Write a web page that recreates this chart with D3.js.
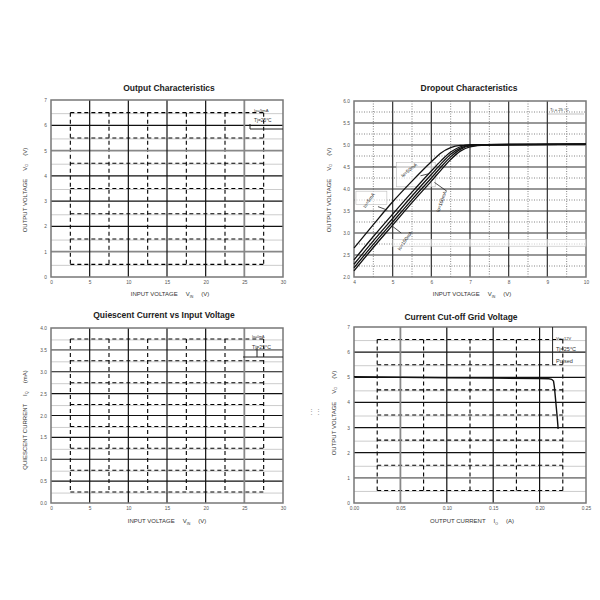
<!DOCTYPE html>
<html>
<head>
<meta charset="utf-8">
<script src="https://cdn.jsdelivr.net/npm/d3@7"></script>
<style>
  body { margin: 0; background: #fff; }
  text { font-family: "Liberation Sans", Arial, sans-serif; }
</style>
</head>
<body>
<svg id="chart" width="600" height="600"></svg>
<script>
// tick values for each panel
var outX = [0, 5, 10, 15, 20, 25, 30];
var outY = [0, 1, 2, 3, 4, 5, 6, 7];
var dropX = [4, 5, 6, 7, 8, 9, 10];
var dropY = [2.0, 2.5, 3.0, 3.5, 4.0, 4.5, 5.0, 5.5, 6.0];
var quiX = [0, 5, 10, 15, 20, 25, 30];
var quiY = [0.0, 0.5, 1.0, 1.5, 2.0, 2.5, 3.0, 3.5, 4.0];
var cutX = [0.00, 0.05, 0.10, 0.15, 0.20, 0.25];
var cutY = [0, 1, 2, 3, 4, 5, 6, 7];

// dropout curves, input voltage vs output voltage
var dropVin = [4, 4.5, 5, 5.5, 6, 6.25, 6.5, 6.75, 7, 7.4, 10];
var drop5mA   = [2.66, 3.19, 3.71, 4.18, 4.62, 4.82, 4.94, 4.99, 5.00, 5.01, 5.02];
var drop50mA  = [2.39, 2.92, 3.43, 3.93, 4.41, 4.64, 4.84, 4.96, 5.00, 5.01, 5.02];
var drop100mA = [2.29, 2.82, 3.33, 3.84, 4.33, 4.57, 4.79, 4.93, 4.99, 5.01, 5.02];
var drop150mA = [2.21, 2.74, 3.25, 3.76, 4.25, 4.50, 4.73, 4.90, 4.98, 5.00, 5.02];
var drop200mA = [2.14, 2.67, 3.18, 3.69, 4.18, 4.43, 4.67, 4.86, 4.96, 5.00, 5.02];
var dropLabels = ["Io=5mA", "Io=50mA", "Io=100mA", "Io=150mA"];

// current cut-off curve
var cutIo = [0, 0.05, 0.10, 0.15, 0.20, 0.210, 0.213, 0.215, 0.216, 0.217, 0.218, 0.219, 0.220];
var cutVo = [5.02, 5.00, 4.98, 4.97, 4.95, 4.94, 4.92, 4.85, 4.60, 4.20, 3.80, 3.40, 2.95];

var svg = d3.select("#chart");

function drawPanel(p) {
    var g = svg.append("g");
    var x = d3.scaleLinear().domain([p.xTicks[0], p.xTicks[p.xTicks.length - 1]]).range([p.left, p.right]);
    var y = d3.scaleLinear().domain([p.yTicks[0], p.yTicks[p.yTicks.length - 1]]).range([p.bottom, p.top]);
    var xMinor = d3.pairs(p.xTicks, function (a, b) { return (a + b) / 2; });
    var yMinor = d3.pairs(p.yTicks, function (a, b) { return (a + b) / 2; });
    var xIn = p.xTicks.slice(1, -1);
    var yIn = p.yTicks.slice(1, -1);

    if (p.dotted) {
        // fine dotted minor grid
        g.selectAll(".mh").data(yMinor).enter().append("line")
            .attr("x1", p.left).attr("x2", p.right)
            .attr("y1", function (d) { return y(d); }).attr("y2", function (d) { return y(d); })
            .attr("stroke", "#666").attr("stroke-width", 0.8).attr("stroke-dasharray", "1,1.5");
        g.selectAll(".mv").data(xMinor).enter().append("line")
            .attr("y1", p.top).attr("y2", p.bottom)
            .attr("x1", function (d) { return x(d); }).attr("x2", function (d) { return x(d); })
            .attr("stroke", "#666").attr("stroke-width", 0.8).attr("stroke-dasharray", "1,1.5");
    } else {
        // light gray under-lines
        g.selectAll(".gh").data(yMinor).enter().append("line")
            .attr("x1", p.left).attr("x2", p.right)
            .attr("y1", function (d) { return y(d) + 1; }).attr("y2", function (d) { return y(d) + 1; })
            .attr("stroke", "#ccc").attr("stroke-width", 1);
        // dashed lattice
        var x0 = x(xMinor[0]), x1 = x(xMinor[xMinor.length - 1]);
        var y0 = y(yMinor[0]), y1 = y(yMinor[yMinor.length - 1]);
        g.selectAll(".dh").data(yMinor).enter().append("line")
            .attr("x1", x0).attr("x2", x1)
            .attr("y1", function (d) { return y(d); }).attr("y2", function (d) { return y(d); })
            .attr("stroke", "#000").attr("stroke-width", 1.1).attr("stroke-dasharray", "4,3");
        g.selectAll(".dv").data(xMinor).enter().append("line")
            .attr("y1", y1).attr("y2", y0)
            .attr("x1", function (d) { return x(d); }).attr("x2", function (d) { return x(d); })
            .attr("stroke", "#000").attr("stroke-width", 1.1).attr("stroke-dasharray", "4,3");
    }

    // major grid
    function majColor(list, d) { return list.indexOf(d) >= 0 ? "#888" : p.majorColor; }
    g.selectAll(".jh").data(yIn).enter().append("line")
        .attr("x1", p.left).attr("x2", p.right)
        .attr("y1", function (d) { return y(d); }).attr("y2", function (d) { return y(d); })
        .attr("stroke", function (d) { return majColor(p.grayY, d); })
        .attr("stroke-width", function (d) { return p.grayY.indexOf(d) >= 0 ? 1.8 : 1.2; });
    g.selectAll(".jv").data(xIn).enter().append("line")
        .attr("y1", p.top).attr("y2", p.bottom)
        .attr("x1", function (d) { return x(d); }).attr("x2", function (d) { return x(d); })
        .attr("stroke", function (d) { return majColor(p.grayX, d); })
        .attr("stroke-width", function (d) { return p.grayX.indexOf(d) >= 0 ? 1.8 : 1.2; });

    // frame
    g.append("rect")
        .attr("x", p.left).attr("y", p.top)
        .attr("width", p.right - p.left).attr("height", p.bottom - p.top)
        .attr("fill", "none").attr("stroke", "#777").attr("stroke-width", 1.5);

    // axes
    var xAxis = d3.axisBottom(x).tickValues(p.xTicks).tickSize(0).tickPadding(4).tickFormat(p.xFmt);
    var yAxis = d3.axisLeft(y).tickValues(p.yTicks).tickSize(0).tickPadding(4).tickFormat(p.yFmt);
    var ax = g.append("g").attr("transform", "translate(0," + p.bottom + ")").call(xAxis);
    var ay = g.append("g").attr("transform", "translate(" + p.left + ",0)").call(yAxis);
    [ax, ay].forEach(function (a) {
        a.select(".domain").remove();
        a.selectAll("text").attr("font-size", 4.8).attr("fill", "#555").attr("font-family", "Liberation Sans, Arial");
    });

    // title
    g.append("text")
        .attr("x", p.titleX).attr("y", p.titleY)
        .attr("text-anchor", "middle").attr("font-size", 8.5).attr("font-weight", "bold").attr("fill", "#222")
        .text(p.title);

    // x label
    var xl = g.append("text")
        .attr("x", p.xLabelX).attr("y", p.xLabelY)
        .attr("text-anchor", "middle").attr("font-size", 6).attr("fill", "#333");
    xl.append("tspan").text(p.xLabel[0]);
    xl.append("tspan").attr("dx", 8).text(p.xLabel[1]);
    xl.append("tspan").attr("font-size", 3.5).attr("dy", 1.5).text(p.xLabel[2]);
    xl.append("tspan").attr("dx", 8).attr("dy", -1.5).text(p.xLabel[3]);

    // y label
    var yl = g.append("text")
        .attr("transform", "translate(" + p.yLabelX + "," + p.yLabelY + ") rotate(-90)")
        .attr("text-anchor", "middle").attr("font-size", 6).attr("fill", "#333");
    yl.append("tspan").text(p.yLabel[0]);
    yl.append("tspan").attr("dx", 8).text(p.yLabel[1]);
    yl.append("tspan").attr("font-size", 3.8).attr("dy", 1.2).text(p.yLabel[2]);
    yl.append("tspan").attr("dx", 8).attr("dy", -1.2).text(p.yLabel[3]);

    return {g: g, x: x, y: y};
}

function smallText(g, tx, ty, s, size) {
    g.append("text").attr("x", tx).attr("y", ty)
        .attr("font-size", size || 4.5).attr("fill", "#333").text(s);
}

// ---- Output Characteristics ----
var p1 = drawPanel({
    left: 51, right: 283, top: 100, bottom: 277,
    xTicks: outX, yTicks: outY, xFmt: d3.format("d"), yFmt: d3.format("d"),
    grayX: [25], grayY: [1, 5], majorColor: "#111",
    title: "Output  Characteristics", titleX: 169, titleY: 91,
    xLabel: ["INPUT VOLTAGE", "V", "IN", "(V)"], xLabelX: 170, xLabelY: 296,
    yLabel: ["OUTPUT VOLTAGE", "V", "O", "(V)"], yLabelX: 27, yLabelY: 190
});
p1.g.append("path").attr("d", "M250,124V129H283").attr("fill", "none").attr("stroke", "#222").attr("stroke-width", 1);
smallText(p1.g, 254, 112, "Io=5mA", 4.2);
smallText(p1.g, 254, 122, "Tj=25°C", 4.8);

// ---- Dropout Characteristics ----
var p2 = drawPanel({
    left: 354, right: 586, top: 101, bottom: 277, dotted: true,
    xTicks: dropX, yTicks: dropY, xFmt: d3.format("d"), yFmt: d3.format(".1f"),
    grayX: [], grayY: [], majorColor: "#333",
    title: "Dropout Characteristics", titleX: 469, titleY: 91,
    xLabel: ["INPUT VOLTAGE", "V", "IN", "(V)"], xLabelX: 472, xLabelY: 296,
    yLabel: ["OUTPUT VOLTAGE", "V", "O", "(V)"], yLabelX: 331, yLabelY: 190
});
// faint label boxes
[[4.05, 3.95, 0.8, 0.3], [5.1, 4.6, 1.0, 0.55], [5.0, 2.85, 5.0, 0.15]].forEach(function (b) {
    p2.g.append("rect")
        .attr("x", p2.x(b[0])).attr("y", p2.y(b[1]))
        .attr("width", p2.x(b[0] + b[2]) - p2.x(b[0])).attr("height", p2.y(b[1] - b[3]) - p2.y(b[1]))
        .attr("fill", "#fff").attr("fill-opacity", 0.6).attr("stroke", "#bbb").attr("stroke-width", 0.6);
});
var dropLine = d3.line()
    .x(function (d, i) { return p2.x(dropVin[i]); })
    .y(function (d) { return p2.y(d); })
    .curve(d3.curveMonotoneX);
[drop5mA, drop50mA, drop100mA, drop150mA, drop200mA].forEach(function (s) {
    p2.g.append("path").attr("d", dropLine(s))
        .attr("fill", "none").attr("stroke", "#111").attr("stroke-width", 1.3);
});
var labelPos = [[4.42, 3.72, -55], [5.45, 4.4, -40], [6.3, 3.7, -70], [5.35, 2.8, -55]];
var arrows = [[4.62, 3.6, 4.86, 3.52], [5.95, 4.35, 5.72, 4.3], [6.4, 3.95, 6.08, 4.15], [5.22, 3.0, 5.0, 3.15]];
dropLabels.forEach(function (s, i) {
    var lp = labelPos[i];
    p2.g.append("text")
        .attr("transform", "translate(" + p2.x(lp[0]) + "," + p2.y(lp[1]) + ") rotate(" + lp[2] + ")")
        .attr("text-anchor", "middle").attr("font-size", 4.8).attr("fill", "#222").text(s);
    var a = arrows[i];
    p2.g.append("line")
        .attr("x1", p2.x(a[0])).attr("y1", p2.y(a[1])).attr("x2", p2.x(a[2])).attr("y2", p2.y(a[3]))
        .attr("stroke", "#222").attr("stroke-width", 0.8);
});
smallText(p2.g, 550, 111, "Tj = 25 °C", 4.2);
p2.g.append("line").attr("x1", 548).attr("x2", 584).attr("y1", 114).attr("y2", 114)
    .attr("stroke", "#999").attr("stroke-width", 0.6);

// ---- Quiescent Current vs Input Voltage ----
var p3 = drawPanel({
    left: 51, right: 283, top: 328, bottom: 503,
    xTicks: quiX, yTicks: quiY, xFmt: d3.format("d"), yFmt: d3.format(".1f"),
    grayX: [25], grayY: [3.5], majorColor: "#111",
    title: "Quiescent Current vs Input Voltage", titleX: 164, titleY: 318,
    xLabel: ["INPUT VOLTAGE", "V", "IN", "(V)"], xLabelX: 167, xLabelY: 523,
    yLabel: ["QUIESCENT CURRENT", "I", "Q", "(mA)"], yLabelX: 27, yLabelY: 420
});
p3.g.append("path").attr("d", "M257,348V357M243,357H283").attr("fill", "none").attr("stroke", "#222").attr("stroke-width", 1);
smallText(p3.g, 252, 338, "Io=0mA", 3.6);
smallText(p3.g, 252, 349, "Tj=25°C", 5.2);

// ---- Current Cut-off Grid Voltage ----
var p4 = drawPanel({
    left: 354, right: 586, top: 327, bottom: 503,
    xTicks: cutX, yTicks: cutY, xFmt: d3.format(".2f"), yFmt: d3.format("d"),
    grayX: [0.05], grayY: [1], majorColor: "#111",
    title: "Current  Cut-off Grid Voltage", titleX: 461, titleY: 320,
    xLabel: ["OUTPUT CURRENT", "I", "O", "(A)"], xLabelX: 472, xLabelY: 523,
    yLabel: ["OUTPUT VOLTAGE", "V", "O", "(V)"], yLabelX: 336, yLabelY: 413
});
var cutLine = d3.line()
    .x(function (d, i) { return p4.x(cutIo[i]); })
    .y(function (d) { return p4.y(d); });
p4.g.append("path").attr("d", cutLine(cutVo))
    .attr("fill", "none").attr("stroke", "#111").attr("stroke-width", 1.4);
p4.g.append("line").attr("x1", p4.x(0.214)).attr("x2", p4.x(0.214))
    .attr("y1", p4.y(7)).attr("y2", p4.y(5.5)).attr("stroke", "#222").attr("stroke-width", 1);
smallText(p4.g, 556, 340, "Vin=12V", 4);
smallText(p4.g, 556, 351, "Tj=25°C", 5.5);
smallText(p4.g, 556, 363, "Pulsed", 5.5);

// scan artifact
svg.append("text").attr("x", 308).attr("y", 414).attr("font-size", 7).attr("fill", "#999").text("⋮⋮");
</script>
</body>
</html>
